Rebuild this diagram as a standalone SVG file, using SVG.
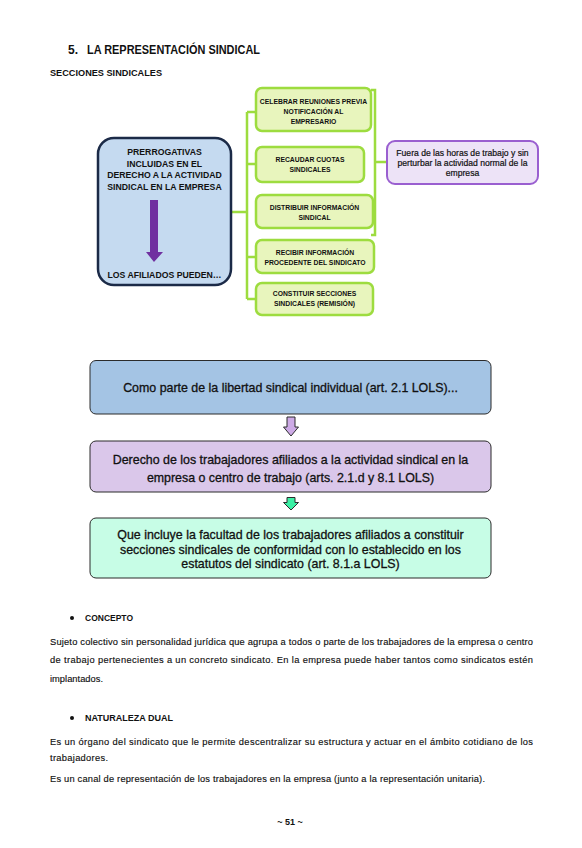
<svg xmlns="http://www.w3.org/2000/svg" width="582" height="848" viewBox="0 0 582 848">
<style>
text{font-family:"Liberation Sans",Arial,sans-serif;fill:#111}
.h{font-weight:bold}
.lb{font-weight:bold;font-size:8.7px;text-anchor:middle}
.gb{fill:#e8f5bd;stroke:#9ddc3f;stroke-width:2.5}
.gt{font-weight:bold;font-size:6.8px;text-anchor:middle}
.pt{font-size:8.6px;text-anchor:middle;stroke:#111;stroke-width:0.2}
.ft{font-size:12.4px;text-anchor:middle;stroke:#111;stroke-width:0.3}
.bt{font-size:9.3px;stroke:#111;stroke-width:0.15}
.conn{fill:none;stroke:#9ddc3f;stroke-width:2.5}
.fb{stroke:#2b2b2b;stroke-width:1}
</style>
<rect width="582" height="848" fill="#fff"/>
<g id="header">
<text class="h" x="68" y="54" font-size="12">5.</text>
<text class="h" x="87" y="54" font-size="12" textLength="173" lengthAdjust="spacingAndGlyphs">LA REPRESENTACIÓN SINDICAL</text>
<text class="h" x="50" y="76" font-size="9.8" textLength="112" lengthAdjust="spacingAndGlyphs">SECCIONES SINDICALES</text>
</g>
<g id="connectors">
<path class="conn" d="M231,212 H247 M247,112 V299 M247,112 H256 M247,164 H256 M247,299 H256 M247,257 H256"/>
<path class="conn" d="M371,90 H375 V235 H371 M375,162 H387"/>
</g>
<g id="prerrogativas">
<rect x="98" y="138" width="133" height="147" rx="16" fill="#c5daf0" stroke="#1b2a47" stroke-width="2.5"/>
<text class="lb" x="164.5" y="155">PRERROGATIVAS</text>
<text class="lb" x="164.5" y="166.5">INCLUIDAS EN EL</text>
<text class="lb" x="164.5" y="178">DERECHO A LA ACTIVIDAD</text>
<text class="lb" x="164.5" y="190">SINDICAL EN LA EMPRESA</text>
<polygon points="150,200 158,200 158,252 163,252 154,262 146,252 150,252" fill="#7030a0"/>
<text class="lb" x="164.5" y="278">LOS AFILIADOS PUEDEN…</text>
</g>
<g id="celebrar">
<rect class="gb" x="256" y="88" width="115" height="43" rx="6"/>
<text class="gt" x="313.5" y="104">CELEBRAR REUNIONES PREVIA</text>
<text class="gt" x="313.5" y="114">NOTIFICACIÓN AL</text>
<text class="gt" x="313.5" y="124">EMPRESARIO</text>
</g>
<g id="recaudar">
<rect class="gb" x="256" y="147" width="108" height="35" rx="6"/>
<text class="gt" x="310" y="162">RECAUDAR CUOTAS</text>
<text class="gt" x="310" y="172">SINDICALES</text>
</g>
<g id="distribuir">
<rect class="gb" x="256" y="195" width="117" height="33" rx="6"/>
<text class="gt" x="314.5" y="209.5">DISTRIBUIR INFORMACIÓN</text>
<text class="gt" x="314.5" y="219.5">SINDICAL</text>
</g>
<g id="recibir">
<rect class="gb" x="256" y="240" width="118" height="33" rx="6"/>
<text class="gt" x="315" y="254.5">RECIBIR INFORMACIÓN</text>
<text class="gt" x="315" y="264.5">PROCEDENTE DEL SINDICATO</text>
</g>
<g id="constituir">
<rect class="gb" x="256" y="283" width="117" height="32" rx="6"/>
<text class="gt" x="314.5" y="295.5">CONSTITUIR SECCIONES</text>
<text class="gt" x="314.5" y="305.5">SINDICALES (REMISIÓN)</text>
</g>
<g id="fuera">
<rect x="387" y="141" width="151" height="43" rx="8" fill="#ede3f7" stroke="#9a5fd0" stroke-width="2"/>
<text class="pt" x="462.5" y="156">Fuera de las horas de trabajo y sin</text>
<text class="pt" x="462.5" y="166">perturbar la actividad normal de la</text>
<text class="pt" x="462.5" y="176">empresa</text>
</g>
<g id="flowA">
<rect class="fb" x="90" y="360.5" width="401" height="53.5" rx="6" fill="#a4c4e4"/>
<text class="ft" x="290.5" y="392">Como parte de la libertad sindical individual (art. 2.1 LOLS)...</text>
</g>
<g id="arrow1">
<polygon class="fb" points="287,417 295,417 295,427 298.5,427 291,436 283.5,427 287,427" fill="#cdaae6"/>
</g>
<g id="flowB">
<rect class="fb" x="90" y="441" width="401" height="51" rx="6" fill="#dac7ea"/>
<text class="ft" x="290.5" y="464">Derecho de los trabajadores afiliados a la actividad sindical en la</text>
<text class="ft" x="290.5" y="482">empresa o centro de trabajo (arts. 2.1.d y 8.1 LOLS)</text>
</g>
<g id="arrow2">
<polygon class="fb" points="287,497.5 295,497.5 295,502.5 298.5,502.5 291,510 283.5,502.5 287,502.5" fill="#3cf0a5"/>
</g>
<g id="flowC">
<rect class="fb" x="90" y="518" width="401" height="60" rx="6" fill="#c7fde6"/>
<text class="ft" x="290.5" y="539">Que incluye la facultad de los trabajadores afiliados a constituir</text>
<text class="ft" x="290.5" y="554">secciones sindicales de conformidad con lo establecido en los</text>
<text class="ft" x="290.5" y="568">estatutos del sindicato (art. 8.1.a LOLS)</text>
</g>
<g id="body">
<circle cx="72" cy="618" r="2" fill="#111"/>
<text class="h" x="85" y="621" font-size="8.6" textLength="48" lengthAdjust="spacingAndGlyphs">CONCEPTO</text>
<text class="bt" x="50" y="644.5" textLength="483">Sujeto colectivo sin personalidad jurídica que agrupa a todos o parte de los trabajadores de la empresa o centro</text>
<text class="bt" x="50" y="663" textLength="483">de trabajo pertenecientes a un concreto sindicato. En la empresa puede haber tantos como sindicatos estén</text>
<text class="bt" x="50" y="681.5" textLength="53">implantados.</text>
<circle cx="72" cy="718" r="2" fill="#111"/>
<text class="h" x="85" y="721" font-size="8.6" textLength="88" lengthAdjust="spacingAndGlyphs">NATURALEZA DUAL</text>
<text class="bt" x="50" y="744.5" textLength="483">Es un órgano del sindicato que le permite descentralizar su estructura y actuar en el ámbito cotidiano de los</text>
<text class="bt" x="50" y="761" textLength="58">trabajadores.</text>
<text class="bt" x="50" y="782" textLength="435">Es un canal de representación de los trabajadores en la empresa (junto a la representación unitaria).</text>
<text class="h" x="290" y="825" font-size="9" text-anchor="middle">~ 51 ~</text>
</g>
</svg>
